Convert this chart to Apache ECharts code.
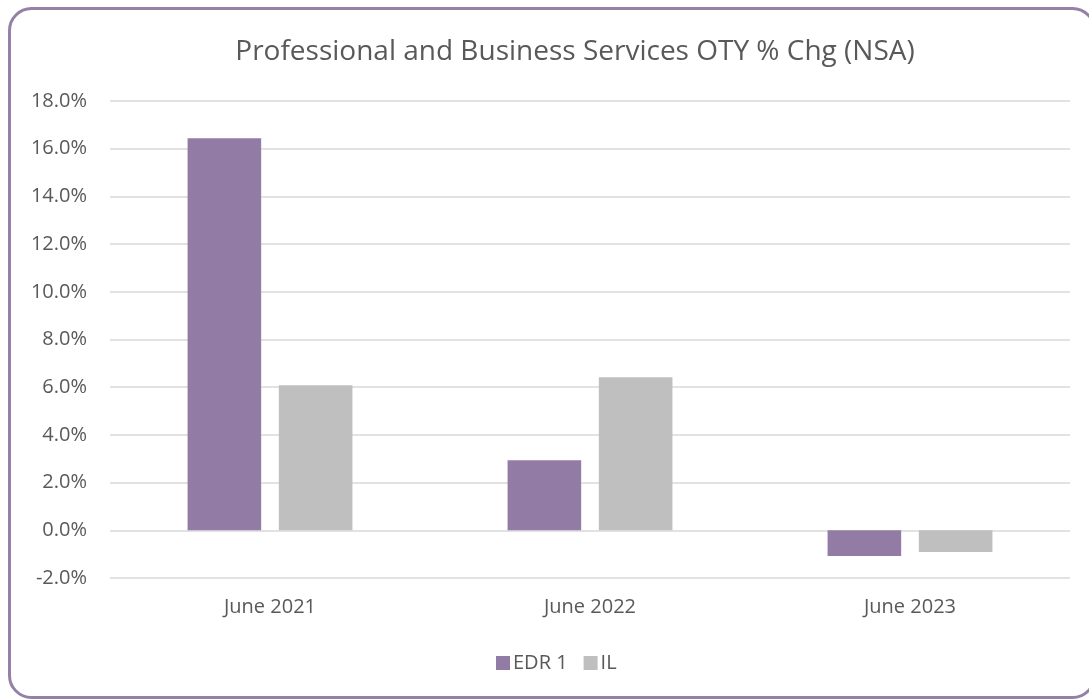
<!DOCTYPE html>
<html>
<head>
<meta charset="utf-8">
<script src="https://cdn.jsdelivr.net/npm/echarts@6/dist/echarts.min.js"></script>
<style>
  html, body { margin: 0; padding: 0; background: #ffffff; }
  #chart { width: 1089px; height: 700px; }
</style>
</head>
<body>
<div id="chart"></div>
<script>
// Year-over-year % change, Professional and Business Services (not seasonally adjusted)
const categories = ['June 2021', 'June 2022', 'June 2023'];
const edr1Values = [16.44, 2.94, -1.08];
const ilValues = [6.08, 6.42, -0.91];
const seriesNames = ['EDR 1', 'IL'];
const titleText = 'Professional and Business Services OTY % Chg (NSA)';

const FONT = '"Open Sans", "Noto Sans", sans-serif';
const TEXT = '#595959';

const chart = echarts.init(document.getElementById('chart'), null, { renderer: 'canvas' });

chart.setOption({
  animation: false,
  backgroundColor: '#ffffff',
  title: {
    text: titleText,
    left: 570,
    top: 33,
    textAlign: 'center',
    textStyle: { fontFamily: FONT, fontSize: 28, fontWeight: 'normal', color: TEXT }
  },
  legend: {
    data: seriesNames,
    left: 491,
    top: 648,
    itemWidth: 14,
    itemHeight: 14,
    itemGap: 16,
    icon: 'rect',
    textStyle: { fontFamily: FONT, fontSize: 20, color: TEXT, padding: [0, 0, 0, -2] }
  },
  grid: { left: 110, right: 19, top: 101, bottom: 122, containLabel: false },
  xAxis: {
    type: 'category',
    data: categories,
    axisLine: { show: false },
    axisTick: { show: false },
    axisLabel: { fontFamily: FONT, fontSize: 20, color: TEXT, margin: 19 }
  },
  yAxis: {
    type: 'value',
    min: -2,
    max: 18,
    interval: 2,
    axisLine: { show: false },
    axisTick: { show: false },
    axisLabel: {
      fontFamily: FONT, fontSize: 20, color: TEXT, margin: 23,
      formatter: v => v.toFixed(1) + '%'
    },
    splitLine: { lineStyle: { color: '#d9d9d9', width: 1.5 } }
  },
  series: [
    {
      name: seriesNames[0],
      type: 'bar',
      data: edr1Values,
      barWidth: '23%',
      barGap: '24%',
      itemStyle: { color: '#927ca5' }
    },
    {
      name: seriesNames[1],
      type: 'bar',
      data: ilValues,
      barWidth: '23%',
      itemStyle: { color: '#bfbfbf' }
    }
  ],
  graphic: [
    {
      type: 'rect',
      shape: { x: 9.5, y: 8.5, width: 1085, height: 689, r: 22 },
      style: { fill: 'none', stroke: '#9580a8', lineWidth: 3 },
      silent: true,
      z: 100
    }
  ]
});
</script>
</body>
</html>
